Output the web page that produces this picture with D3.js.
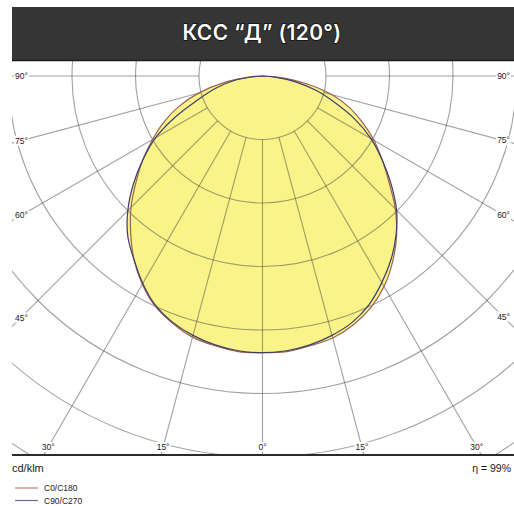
<!DOCTYPE html>
<html><head><meta charset="utf-8">
<script src="https://cdn.jsdelivr.net/npm/d3@7"></script>
<style>html,body{margin:0;padding:0;background:#fff;} svg{display:block}</style>
</head><body>
<svg id="c" width="514" height="506"></svg>
<script>
// ---------- data ----------
const title = "КСС “Д” (120°)";
const unitLabel = "cd/klm";
const efficiencyLabel = "η = 99%";
const seriesNames = ["C0/C180", "C90/C270"];
const gammaAngles = [0,5,10,15,20,25,30,35,40,45,50,55,60,65,70,75,80,85,90];
// intensities, cd/klm
const c0   = [305,305,302,299,292,282,268,250,230,207,182,161,142,122,102,79,49,18,0]; // right half
const c180 = [305,305,302,298,290,280,265,247,226,205,182,161,140,120,98,73,44,15,0];   // left half
const c90  = [305,304,301,296,289,278,263,247,229,209,185,161,138,112,84,61,37,14,0];   // right half
const c270 = [305,304,301,296,289,279,264,247,231,210,186,161,136,105,75,55,35,13,0];   // left half
const ringValues = [70,140,210,280,350,420,490,560];
const rayAngles = [0,15,30,45,60,75,90];
const sideTickLabels = [90,75,60,45];
const bottomTickLabels = [30,15,0];

// ---------- layout ----------
const W = 514, H = 506;
const plot = {left: 12, right: 514, top: 61, bottom: 455};
const cx = 262.5, cy = 76;
const colors = {c0: "#9c5f55", c90: "#3e3e6c", fill: "#faf488",
                c0Legend: "#c4817b", c90Legend: "#6a6a9c"};

const svg = d3.select("#c");
const r = d3.scaleLinear().domain([0, 70]).range([0, 63.5]);
const rad = d => d * Math.PI / 180;

// header
svg.append("rect").attr("x", 12).attr("y", 7).attr("width", W - 12).attr("height", 53).attr("fill", "#353535");
svg.append("line").attr("x1", 12).attr("x2", W).attr("y1", 60.5).attr("y2", 60.5).attr("stroke", "#1c1c1c").attr("stroke-width", 1.5);
svg.append("text").attr("x", 262).attr("y", 40).attr("text-anchor", "middle")
  .attr("font-family", "Inter").attr("font-weight", 600).attr("font-size", 21)
  .attr("letter-spacing", 0.3)
  .attr("fill", "#fff").attr("stroke", "#111").attr("stroke-width", 1.6)
  .attr("paint-order", "stroke").text(title);

// clip
svg.append("clipPath").attr("id", "pc").append("rect")
  .attr("x", plot.left).attr("y", plot.top)
  .attr("width", plot.right - plot.left).attr("height", plot.bottom - plot.top);

const g = svg.append("g").attr("clip-path", "url(#pc)");
const center = g.append("g").attr("transform", `translate(${cx},${cy})`);

function buildPoints(left, right) {
  const pts = [];
  for (let i = gammaAngles.length - 1; i >= 0; i--) pts.push({a: Math.PI + rad(gammaAngles[i]), v: left[i]});
  for (let i = 1; i < gammaAngles.length; i++) pts.push({a: Math.PI - rad(gammaAngles[i]), v: right[i]});
  return pts;
}
const line = d3.lineRadial().angle(d => d.a).radius(d => r(d.v)).curve(d3.curveCatmullRom.alpha(0.5));
const p0 = buildPoints(c180, c0);
const p90 = buildPoints(c270, c90);

// fills (union)
[p0, p90].forEach(p => center.append("path").attr("d", line(p) + "Z").attr("fill", colors.fill).attr("stroke", "none"));

// grid
const gridG = center.append("g").attr("fill", "none").attr("stroke", "#444").attr("stroke-opacity", 0.5).attr("stroke-width", 1.1);
ringValues.forEach(v => gridG.append("circle").attr("r", r(v)));
rayAngles.forEach(t => {
  const sides = t === 0 ? [1] : [-1, 1];
  sides.forEach(s => {
    const th = rad(t) * s;
    gridG.append("line")
      .attr("x1", r(ringValues[0]) * Math.sin(th)).attr("y1", r(ringValues[0]) * Math.cos(th))
      .attr("x2", 700 * Math.sin(th)).attr("y2", 700 * Math.cos(th));
  });
});

// curves
center.append("path").attr("d", line(p0)).attr("fill", "none").attr("stroke", colors.c0).attr("stroke-width", 1.2);
center.append("path").attr("d", line(p90)).attr("fill", "none").attr("stroke", colors.c90).attr("stroke-width", 1.2);

// tick labels with white backgrounds
const labG = svg.append("g").attr("font-family", "Liberation Sans").attr("font-size", 8.5).attr("fill", "#1a1a1a");
function label(x, y, txt, anchor) {
  const t = labG.append("text").attr("x", x).attr("y", y).attr("text-anchor", anchor)
    .attr("dominant-baseline", "central").text(txt);
  const b = t.node().getBBox();
  labG.insert("rect", () => t.node()).attr("x", b.x - 1).attr("y", b.y).attr("width", b.width + 2).attr("height", b.height).attr("fill", "#fff");
}
sideTickLabels.forEach(t => {
  const cot = Math.cos(rad(t)) / Math.sin(rad(t));
  label(15, cy + (cx - 21) * cot, t + "°", "start");
  label(510, cy + (503 - cx) * cot, t + "°", "end");
});
bottomTickLabels.forEach(t => {
  const dx = (447 - cy) * Math.tan(rad(t));
  if (t === 0) label(cx, 447, t + "°", "middle");
  else { label(cx - dx, 447, t + "°", "middle"); label(cx + dx, 447, t + "°", "middle"); }
});

// bottom axis line
svg.append("line").attr("x1", plot.left).attr("x2", W).attr("y1", plot.bottom).attr("y2", plot.bottom)
  .attr("stroke", "#2b2b2b").attr("stroke-width", 2);

// unit / efficiency
svg.append("text").attr("x", 12).attr("y", 472).attr("font-family", "Liberation Sans").attr("font-size", 11).attr("fill", "#1a1a1a").text(unitLabel);
svg.append("text").attr("x", 511).attr("y", 472).attr("text-anchor", "end").attr("font-family", "Liberation Sans").attr("font-size", 10.5).attr("fill", "#1a1a1a").text(efficiencyLabel);

// legend
const legG = svg.append("g").attr("font-family", "Liberation Sans").attr("font-size", 8.5).attr("fill", "#222");
[[seriesNames[0], colors.c0Legend, 488], [seriesNames[1], colors.c90Legend, 500.5]].forEach(([name, col, y]) => {
  legG.append("line").attr("x1", 15).attr("x2", 38).attr("y1", y).attr("y2", y).attr("stroke", col).attr("stroke-width", 1.2);
  legG.append("text").attr("x", 44).attr("y", y).attr("dominant-baseline", "central").text(name);
});
</script>
</body></html>
